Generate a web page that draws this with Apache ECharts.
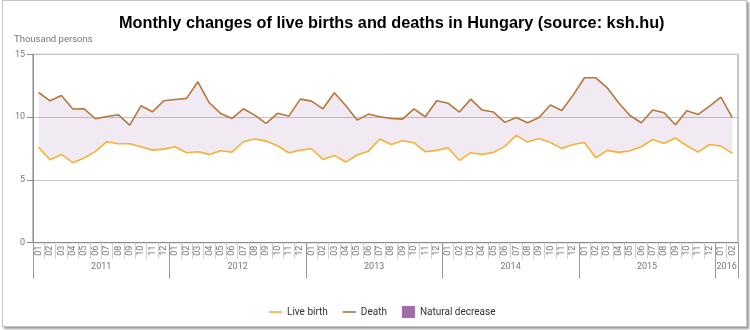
<!DOCTYPE html>
<html>
<head>
<meta charset="utf-8">
<script src="https://cdn.jsdelivr.net/npm/echarts@6/dist/echarts.min.js"></script>
<style>
html,body{margin:0;padding:0;background:#fff;}
#main{width:750px;height:330px;position:absolute;left:0;top:0;}
#frame{position:absolute;left:2px;top:0px;width:743px;height:325px;border:1px solid #c4c4c4;box-shadow:2px 2px 2px #9a9a9a;pointer-events:none;}
</style>
</head>
<body>
<div id="main"></div>
<div id="frame"></div>
<script>
// Months 2011-01 .. 2016-02
const years = ['2011', '2012', '2013', '2014', '2015', '2016'];
const monthsPerYear = [12, 12, 12, 12, 12, 2];
const monthLabels = ['01','02','03','04','05','06','07','08','09','10','11','12'];

const liveBirth = [
  7.59, 6.60, 7.03, 6.37, 6.74, 7.27, 8.04, 7.88, 7.88, 7.64, 7.37, 7.45,
  7.64, 7.16, 7.24, 7.03, 7.32, 7.21, 8.04, 8.25, 8.09, 7.72, 7.16, 7.37,
  7.48, 6.63, 6.95, 6.42, 6.98, 7.29, 8.25, 7.82, 8.12, 7.96, 7.24, 7.35,
  7.56, 6.55, 7.16, 7.03, 7.19, 7.67, 8.54, 8.01, 8.30, 7.98, 7.51, 7.82,
  7.98, 6.76, 7.35, 7.19, 7.32, 7.64, 8.22, 7.90, 8.33, 7.72, 7.21, 7.82,
  7.69, 7.11
];
const death = [
  11.96, 11.30, 11.72, 10.64, 10.66, 9.87, 10.05, 10.19, 9.36, 10.90, 10.42, 11.30,
  11.40, 11.49, 12.81, 11.14, 10.29, 9.89, 10.66, 10.16, 9.50, 10.30, 10.08, 11.43,
  11.27, 10.66, 11.94, 10.93, 9.76, 10.24, 10.03, 9.89, 9.84, 10.66, 10.03, 11.30,
  11.11, 10.40, 11.43, 10.56, 10.40, 9.58, 9.97, 9.55, 9.97, 10.96, 10.53, 11.75,
  13.13, 13.13, 12.33, 11.14, 10.13, 9.55, 10.56, 10.35, 9.39, 10.50, 10.21, 10.88,
  11.59, 9.95
];
const yTicks = [0, 5, 10, 15];

// Build category list and year label positions
const categories = [];
const yearLabelAt = {};
let idx = 0;
years.forEach((y, yi) => {
  const n = monthsPerYear[yi];
  yearLabelAt[idx + n / 2] = y;
  for (let m = 0; m < n; m++) { categories.push(monthLabels[m]); }
  idx += n;
});
const yearStart = new Set();
let acc = 0;
monthsPerYear.forEach(n => { yearStart.add(acc); acc += n; });
const decrease = death.map((d, i) => +(d - liveBirth[i]).toFixed(2));

const lineIcon = 'path://M0,0H14V1.8H0Z';

const chart = echarts.init(document.getElementById('main'), null, {renderer: 'canvas'});
chart.setOption({
  animation: false,
  title: [
    {
      text: 'Monthly changes of live births and deaths in Hungary (source: ksh.hu)',
      left: 114, top: 11,
      textStyle: {fontFamily: 'Liberation Sans', fontWeight: 'bold', fontSize: 16.3, color: '#000'}
    },
    {
      text: 'Thousand persons', left: 9, top: 30,
      textStyle: {fontFamily: 'Roboto', fontWeight: 'normal', fontSize: 9.5, color: '#777'}
    }
  ],
  legend: {
    bottom: 7, left: 264,
    itemWidth: 13, itemHeight: 12, itemGap: 15,
    textStyle: {fontFamily: 'Roboto', fontSize: 10, color: '#333'},
    data: [
      {name: 'Live birth', icon: lineIcon},
      {name: 'Death', icon: lineIcon},
      {name: 'Natural decrease', icon: 'rect'}
    ]
  },
  grid: {left: 33, right: 12, top: 54.3, bottom: 87.3, show: true, borderColor: '#8a8a8a', borderWidth: 1, containLabel: false},
  xAxis: [
    {
      type: 'category', data: categories, position: 'bottom', boundaryGap: true,
      axisLine: {show: true, onZero: false, lineStyle: {color: '#8a8a8a'}},
      axisTick: {show: true, interval: 0, length: 16, lineStyle: {color: '#cfcfcf'}},
      axisLabel: {interval: 0, rotate: 90, fontSize: 9, color: '#777', margin: 3, fontFamily: 'Roboto'},
      splitLine: {show: false}
    },
    {
      type: 'category', data: categories, position: 'bottom', boundaryGap: true,
      axisLine: {show: false, onZero: false},
      axisTick: {show: true, interval: (i) => yearStart.has(i), length: 36, lineStyle: {color: '#9a9a9a'}},
      axisLabel: {show: false},
      splitLine: {show: false}
    },
    {
      type: 'value', min: 0, max: categories.length, interval: 1, position: 'bottom',
      axisLine: {show: false, onZero: false}, axisTick: {show: false}, splitLine: {show: false},
      axisLabel: {
        margin: 20, fontSize: 9, color: '#777', fontFamily: 'Roboto',
        showMinLabel: true, showMaxLabel: true,
        formatter: (v) => yearLabelAt[v] || ''
      }
    }
  ],
  yAxis: {
    type: 'value', min: yTicks[0], max: yTicks[yTicks.length - 1], interval: 5,
    axisLine: {show: true, lineStyle: {color: '#8a8a8a'}},
    axisTick: {show: true, length: 6, lineStyle: {color: '#8a8a8a'}},
    axisLabel: {fontSize: 9, color: '#777', margin: 8, fontFamily: 'Roboto'},
    splitLine: {show: true, lineStyle: {color: '#c4c4c4'}}
  },
  series: [
    {
      name: 'Live birth', type: 'line', data: liveBirth, stack: 'gap',
      showSymbol: false, symbol: 'none',
      lineStyle: {color: '#f5b13a', width: 1.6}, itemStyle: {color: '#f5b13a'}, z: 4
    },
    {
      name: 'Natural decrease', type: 'line', data: decrease, stack: 'gap',
      showSymbol: false, symbol: 'none',
      lineStyle: {width: 0, opacity: 0},
      areaStyle: {color: 'rgba(162,108,172,0.2)'},
      itemStyle: {color: '#a36cad'}, z: 1
    },
    {
      name: 'Death', type: 'line', data: death,
      showSymbol: false, symbol: 'none',
      lineStyle: {color: '#b5773c', width: 1.6}, itemStyle: {color: '#b5773c'}, z: 5
    }
  ]
});
</script>
</body>
</html>
